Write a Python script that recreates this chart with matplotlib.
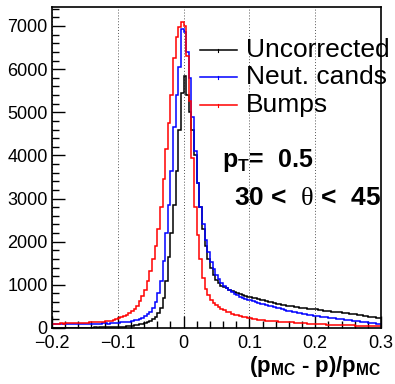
import numpy as np
import matplotlib
matplotlib.use("Agg")
import matplotlib.pyplot as plt
from matplotlib.lines import Line2D
from matplotlib.ticker import MultipleLocator, FixedLocator, FixedFormatter

plt.rcParams['font.family'] = ['Liberation Sans', 'DejaVu Sans']
plt.rcParams['mathtext.fontset'] = 'custom'
plt.rcParams['mathtext.rm'] = 'Liberation Serif'
plt.rcParams['mathtext.bf'] = 'Liberation Sans:bold'
plt.rcParams['mathtext.it'] = 'Liberation Sans:italic'

# ---- data: histogram counts, 125 bins over [-0.2, 0.3] ----
x_min, x_max, n_bins = -0.2, 0.3, 125

uncorrected = [
    3, 2, 4, 3, 5, 4, 6, 5, 7, 6, 8, 7, 9, 10, 9, 11, 12, 11, 13, 14, 15, 16, 18, 19, 21,
    23, 26, 30, 35, 42, 50, 60, 72, 85, 100, 118, 140, 165, 205, 260, 340, 470, 700, 1100,
    1650, 2200, 2850, 3650, 4600, 5450,
    5840, 5400, 5000, 4600, 4000, 3350, 2800, 2300, 1900, 1600, 1380, 1220, 1110, 1050, 980,
    940, 920, 890, 860, 840, 810, 790, 770, 750, 730,
    720,
    705, 690, 678, 660, 648, 630, 612, 603, 585, 565, 552, 535, 528, 515, 505, 500, 488, 484,
    475, 465, 460, 450, 446, 438, 430, 420, 414, 405, 398, 392, 382, 376, 368, 360, 354, 345,
    340, 330, 322, 314, 305, 296, 285, 276, 265, 256, 245, 236, 225,
]

neut_cands = [
    90, 88, 92, 85, 90, 95, 88, 92, 96, 90, 94, 98, 92, 100, 96, 102, 98, 104, 100, 106, 108,
    104, 110, 112, 118,
    122, 128, 135, 142, 150, 160, 175, 190, 210, 240, 275, 320, 380, 470, 600, 800, 1100,
    1550, 2200, 2850, 3650, 4650, 5400, 6050, 6930,
    6850, 6400, 5800, 4900, 4100, 3350, 2800, 2400, 2050, 1750, 1520, 1370, 1240, 1130, 1050,
    980, 920, 870, 830, 790, 755, 725, 700, 680, 660,
    640,
    620, 600, 584, 565, 550, 532, 517, 500, 487, 465, 452, 435, 422, 405, 394, 380, 370, 355,
    345, 330, 320, 305, 297, 283, 277, 268, 262, 252, 247, 238, 232, 222, 217, 208, 202, 192,
    187, 178, 172, 162, 157, 147, 142, 132, 127, 118, 112, 102, 95,
]

bumps = [
    95, 100, 98, 105, 102, 108, 110, 106, 115, 112, 118, 120, 125, 122, 130, 135, 132, 140,
    145, 150, 155, 160, 170, 180, 200,
    225, 250, 280, 310, 345, 400, 450, 520, 620, 740, 880, 1080, 1330, 1600, 1900, 2300,
    2800, 3450, 4150, 4750, 5400, 6250, 6750, 6980, 7090,
    7000, 6300, 5250, 3950, 2800, 2150, 1600, 1150, 900, 760, 650, 580, 530, 490, 440, 410,
    380, 360, 330, 310, 295, 280, 260, 250, 235,
    225,
    210, 200, 190, 182, 178, 170, 165, 160, 158, 152, 148, 145, 142, 138, 135, 128, 125, 120,
    115, 112, 108, 102, 98, 95, 92, 88, 85, 83, 80, 78, 76, 74, 72, 70, 68, 66, 64, 62, 60,
    56, 54, 50, 48, 46, 44, 42, 40, 38, 35,
]

series_names = ["Uncorrected", "Neut. cands", "Bumps"]
series_colors = ["#000000", "#0000ff", "#ff0000"]
series_values = [uncorrected, neut_cands, bumps]

x_ticks = [-0.2, -0.1, 0.0, 0.1, 0.2, 0.3]
x_tick_labels = ["\u22120.2", "\u22120.1", "0", "0.1", "0.2", "0.3"]
y_ticks = [0, 1000, 2000, 3000, 4000, 5000, 6000, 7000]
y_tick_labels = ["0", "1000", "2000", "3000", "4000", "5000", "6000", "7000"]

# ---- figure ----
W, H = 395, 384
fig = plt.figure(figsize=(W / 100, H / 100), dpi=100)
L, R, B, T = 52, 381, 328, 7
ax = fig.add_axes([L / W, 1 - B / H, (R - L) / W, (B - T) / H])

edges = np.linspace(x_min, x_max, n_bins + 1)
for vals, col in zip(series_values, series_colors):
    ax.stairs(vals, edges, baseline=None, color=col, lw=1.1)

ax.set_xlim(x_min, x_max)
ax.set_ylim(0, 7440)

ax.xaxis.set_major_locator(FixedLocator(x_ticks))
ax.xaxis.set_major_formatter(FixedFormatter(x_tick_labels))
ax.xaxis.set_minor_locator(MultipleLocator(0.02))
ax.yaxis.set_major_locator(FixedLocator(y_ticks))
ax.yaxis.set_major_formatter(FixedFormatter(y_tick_labels))
ax.yaxis.set_minor_locator(MultipleLocator(200))

ax.tick_params(axis='both', which='both', direction='in', top=False, right=False,
               width=1.0, color='black')
ax.tick_params(axis='both', which='major', length=9, labelsize=13)
ax.tick_params(axis='both', which='minor', length=5)
ax.tick_params(axis='x', which='major', pad=5)
ax.tick_params(axis='y', which='major', pad=3)

for s in ax.spines.values():
    s.set_linewidth(1.2)
    s.set_color('black')

ax.grid(True, axis='x', which='major', color='#555555', lw=0.7, linestyle=(0, (1, 2)))
ax.set_axisbelow(True)

# ---- legend (manual, no frame) ----
leg_rows_y = [50, 77, 105]
for name, col, yy in zip(series_names, series_colors, leg_rows_y):
    fy = 1 - yy / H
    fig.add_artist(Line2D([200 / W, 237 / W], [fy, fy], color=col, lw=1.1))
    fig.add_artist(Line2D([218 / W, 218 / W], [fy - 1.5 / H, fy + 1.5 / H], color=col, lw=0.8))
    fig.text(246 / W, fy, name, fontsize=19, color='black', ha='left', va='center')

# ---- annotations ----
fig.text(222 / W, 1 - 167 / H, r"$\mathbf{p}_{\mathbf{T}}$=  0.5", fontsize=18,
         fontweight='bold', ha='left', va='baseline')
fig.text(234 / W, 1 - 205 / H, r"30 <  $\mathrm{\theta}$ <  45", fontsize=19,
         fontweight='bold', ha='left', va='baseline')

fig.text(381 / W, 1 - 372 / H, r"$\mathbf{(p_{MC}}$ - $\mathbf{p)/p_{MC}}$", fontsize=16,
         fontweight='bold', ha='right', va='baseline')

fig.savefig("out.png", dpi=100)
